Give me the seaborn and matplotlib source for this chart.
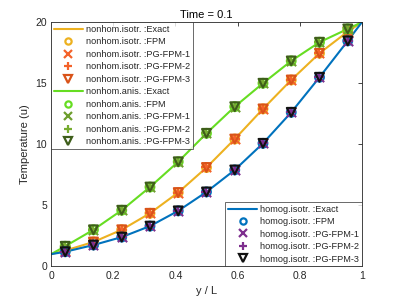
import numpy as np
import pandas as pd
import matplotlib
matplotlib.use("Agg")
import matplotlib.pyplot as plt
import seaborn as sns
from matplotlib.lines import Line2D

# ---- data ----
x_pts = [0.0455, 0.1364, 0.2273, 0.3182, 0.4091, 0.5, 0.5909, 0.6818, 0.7727, 0.8636, 0.9545]
homog_isotr = [1.2, 1.75, 2.4, 3.3, 4.55, 6.1, 7.9, 10.08, 12.62, 15.49, 18.47]
nonhom_isotr = [1.3, 2.0, 3.0, 4.35, 6.05, 8.1, 10.43, 12.9, 15.27, 17.46, 19.23]
nonhom_anis = [1.65, 3.0, 4.6, 6.5, 8.57, 10.9, 13.08, 15.0, 16.83, 18.36, 19.45]
x_start, x_end = 0.0, 1.0
y_start, y_end = 1.0, 20.0
methods = ["FPM", "PG-FPM-1", "PG-FPM-2", "PG-FPM-3"]
x_ticks = [0, 0.2, 0.4, 0.6, 0.8, 1]
y_ticks = [0, 5, 10, 15, 20]

sns.set_style("white")
plt.rcParams['font.family'] = ['Liberation Sans', 'DejaVu Sans']

fig = plt.figure(figsize=(3.99, 3.0), dpi=100)
ax = fig.add_axes([0.128, 0.112, 0.779, 0.814])

groups = [
    ("nonhom.isotr.", nonhom_isotr, "#EDB120",
     [("o", "#EDB120"), ("x", "#F4622A"), ("+", "#F4622A"), ("v", "#D95319")]),
    ("nonhom.anis.", nonhom_anis, "#66DD22",
     [("o", "#66DD22"), ("x", "#6E9E2E"), ("+", "#77AC30"), ("v", "#3E5E1A")]),
    ("homog.isotr.", homog_isotr, "#0072BD",
     [("o", "#0072BD"), ("x", "#7E2F8E"), ("+", "#7E2F8E"), ("v", "#111111")]),
]

handles = {}
for name, vals, lc, mk in groups:
    xs = [x_start] + x_pts + [x_end]
    ys = [y_start] + list(vals) + [y_end]
    df = pd.DataFrame({"x": xs, "y": ys})
    sns.lineplot(data=df, x="x", y="y", ax=ax, color=lc, linewidth=1.5, sort=True)
    hl = [Line2D([], [], color=lc, lw=1.5)]
    dm = pd.DataFrame({"x": x_pts, "y": vals})
    for (m, c) in mk:
        if m in ("x", "+"):
            sns.scatterplot(data=dm, x="x", y="y", ax=ax, marker=m, color=c, s=45,
                            linewidth=1.5, zorder=3)
            hl.append(Line2D([], [], ls="none", marker=m, color=c, markersize=6, mew=1.6))
        else:
            sns.scatterplot(data=dm, x="x", y="y", ax=ax, marker=m, facecolor="none",
                            edgecolor=c, s=40, linewidth=1.5, zorder=3)
            hl.append(Line2D([], [], ls="none", marker=m, markerfacecolor="none",
                             markeredgecolor=c, markersize=4.5 if m == "o" else 6, mew=1.6))
    handles[name] = hl

labels1, h1 = [], []
for name in ["nonhom.isotr.", "nonhom.anis."]:
    h1 += handles[name]
    labels1 += [name + " :Exact"] + [name + " :" + m for m in methods]
leg_kw = dict(fontsize=6.6, frameon=True, fancybox=False, edgecolor="#262626",
              handlelength=3.2, handletextpad=0.3, labelspacing=0.38, borderpad=0.3,
              borderaxespad=0)
leg1 = ax.legend(h1, labels1, loc="upper left", bbox_to_anchor=(0.0, 1.0), **leg_kw)
leg1.get_frame().set_linewidth(0.6)
ax.add_artist(leg1)
labels2 = ["homog.isotr. :Exact"] + ["homog.isotr. :" + m for m in methods]
leg2 = ax.legend(handles["homog.isotr."], labels2, loc="lower right",
                 bbox_to_anchor=(1.0, 0.0), **leg_kw)
leg2.get_frame().set_linewidth(0.6)

ax.set_xlim(0, 1)
ax.set_ylim(0, 20)
ax.set_xticks(x_ticks)
ax.set_xticklabels(["0", "0.2", "0.4", "0.6", "0.8", "1"])
ax.set_yticks(y_ticks)
ax.tick_params(direction="in", length=3, width=0.6, labelsize=7.5, colors="#262626",
               top=True, right=True, pad=3)
for sp in ax.spines.values():
    sp.set_color("#262626")
    sp.set_linewidth(0.6)
ax.set_xlabel("y / L", fontsize=8, color="#262626", labelpad=4)
ax.set_ylabel("Temperature (u)", fontsize=8, color="#262626", labelpad=4)
ax.set_title("Time = 0.1", fontsize=8, color="#000000", pad=3)

fig.savefig("out.png", dpi=100)
